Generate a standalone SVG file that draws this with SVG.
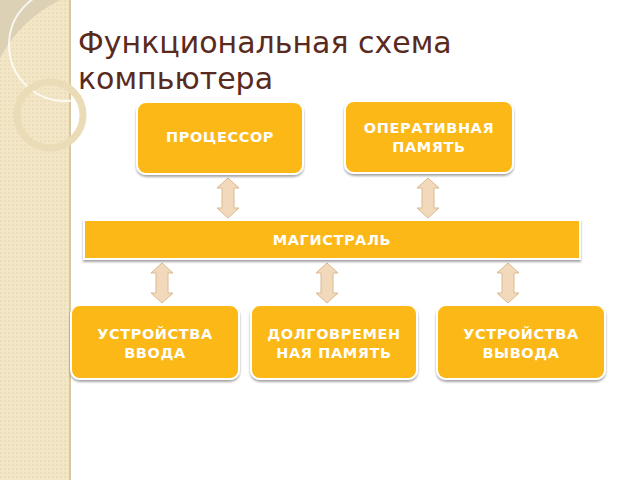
<svg xmlns="http://www.w3.org/2000/svg" width="640" height="480" viewBox="0 0 640 480">
<defs>
<pattern id="dots" width="4" height="4" patternUnits="userSpaceOnUse"><rect width="4" height="4" fill="#f2e6c6"/><circle cx="1" cy="1" r="0.7" fill="#e2d2a6"/></pattern>
<filter id="sh" x="-10%" y="-10%" width="120%" height="130%"><feDropShadow dx="0" dy="2" stdDeviation="1.2" flood-color="#000" flood-opacity="0.35"/></filter>
<symbol id="arr" viewBox="0 0 24 42" overflow="visible"><path d="M12 1 L23 11 L18 11 L18 31 L23 31 L12 41 L1 31 L6 31 L6 11 L1 11 Z" fill="#f3d9bb" stroke="#d9b98f" stroke-width="1"/></symbol>
</defs>
<style>
.box{fill:#fcb813;stroke:#fff;stroke-width:2;filter:url(#sh)}
.t{font-family:"DejaVu Sans",sans-serif;font-weight:bold;font-size:14.5px;fill:#fff;text-anchor:middle;letter-spacing:0.6px}
</style>
<rect width="640" height="480" fill="#fff"/>
<g id="deco">
<rect width="70" height="480" fill="url(#dots)"/>
<line x1="70" y1="0" x2="70" y2="480" stroke="#d8c9a0" stroke-width="2"/>
<path d="M0 0 H60 Q20 20 0 58 Z" fill="#dcd0b5"/>
<circle cx="65" cy="45" r="56" fill="none" stroke="#fff" stroke-width="2" opacity="0.8"/>
<circle cx="50" cy="115" r="33" fill="none" stroke="#ebdcb8" stroke-width="7"/>
</g>
<text x="78" y="53" font-family="DejaVu Sans,sans-serif" font-size="30" fill="#5a2a1e">Функциональная схема</text>
<text x="78" y="89" font-family="DejaVu Sans,sans-serif" font-size="30" fill="#5a2a1e">компьютера</text>
<g id="connectors">
<use href="#arr" x="216" y="177" width="24" height="42"/>
<use href="#arr" x="416" y="177" width="24" height="42"/>
<use href="#arr" x="150" y="262" width="24" height="42"/>
<use href="#arr" x="315" y="262" width="24" height="42"/>
<use href="#arr" x="496" y="262" width="24" height="42"/>
</g>
<g id="cpu"><rect class="box" x="137" y="102" width="166" height="72" rx="9"/><text class="t" x="220" y="142">ПРОЦЕССОР</text></g>
<g id="ram"><rect class="box" x="345" y="101" width="168" height="72" rx="9"/><text class="t" x="429" y="133">ОПЕРАТИВНАЯ</text><text class="t" x="429" y="152">ПАМЯТЬ</text></g>
<g id="bus"><rect class="box" x="84" y="220" width="496" height="39" rx="0"/><text class="t" x="332" y="245">МАГИСТРАЛЬ</text></g>
<g id="input"><rect class="box" x="71" y="305" width="168" height="74" rx="9"/><text class="t" x="155" y="339">УСТРОЙСТВА</text><text class="t" x="155" y="358">ВВОДА</text></g>
<g id="storage"><rect class="box" x="251" y="305" width="166" height="74" rx="9"/><text class="t" x="334" y="339">ДОЛГОВРЕМЕН</text><text class="t" x="334" y="358">НАЯ ПАМЯТЬ</text></g>
<g id="output"><rect class="box" x="437" y="305" width="168" height="74" rx="9"/><text class="t" x="521" y="339">УСТРОЙСТВА</text><text class="t" x="521" y="358">ВЫВОДА</text></g>
</svg>
